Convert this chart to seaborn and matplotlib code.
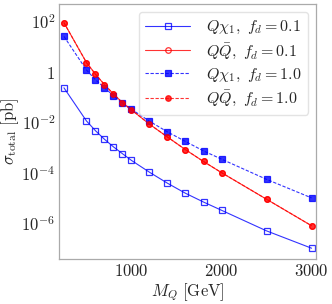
import matplotlib
matplotlib.use("Agg")
import matplotlib.pyplot as plt
import matplotlib.ticker as mticker
import pandas as pd
import seaborn as sns

# masses in GeV
mass = [250, 500, 600, 700, 800, 900, 1000, 1200, 1400, 1600, 1800, 2000, 2500, 3000]

# cross sections [pb]
qchi_fd01 = [0.24, 0.0117, 0.0048, 0.0022, 0.0011, 5.9e-4, 3.2e-4, 1.09e-4,
             4.0e-5, 1.6e-5, 7.2e-6, 3.4e-6, 5.2e-7, 1.07e-7]
qqbar_fd01 = [91, 2.4, 0.83, 0.32, 0.137, 0.062, 0.032, 0.0087,
              2.7e-3, 8.5e-4, 2.9e-4, 1.05e-4, 9.3e-6, 8.3e-7]
qchi_fd10 = [26, 1.22, 0.50, 0.24, 0.117, 0.059, 0.034, 0.0114,
             4.3e-3, 1.8e-3, 7.6e-4, 3.6e-4, 5.7e-5, 1.05e-5]
qqbar_fd10 = qqbar_fd01

sns.set_style("white")
plt.rcParams["font.family"] = ["DejaVu Serif"]
plt.rcParams["mathtext.fontset"] = "cm"

fig = plt.figure(figsize=(3.32, 3.04), dpi=100)
ax = fig.add_axes([0.179, 0.148, 0.773, 0.839])

series = [
    (qchi_fd01, r"$Q\chi_1,\ f_d=0.1$", "blue", "-", "s", "none"),
    (qqbar_fd01, r"$Q\bar{Q},\ f_d=0.1$", "red", "-", "o", "none"),
    (qchi_fd10, r"$Q\chi_1,\ f_d=1.0$", "blue", (0, (3, 1.5)), "s", "blue"),
    (qqbar_fd10, r"$Q\bar{Q},\ f_d=1.0$", "red", (0, (3, 1.5)), "o", "red"),
]
for vals, lab, col, ls, mk, mfc in series:
    d = pd.DataFrame({"M": mass, "sigma": vals})
    sns.lineplot(data=d, x="M", y="sigma", ax=ax, color=col, linestyle=ls,
                 linewidth=0.8, marker=mk, markersize=4, markerfacecolor=mfc,
                 markeredgecolor=col, markeredgewidth=0.9, label=lab, alpha=0.8)

ax.set_yscale("log")
ax.set_xlim(200, 3050)
ax.set_ylim(4e-8, 5e2)
ax.set_xticks([1000, 2000, 3000])
ax.set_xticklabels([r"$1000$", r"$2000$", r"$3000$"])
ax.set_yticks([1e2, 1, 1e-2, 1e-4, 1e-6])
ax.set_yticklabels([r"$10^{2}$", r"$1$", r"$10^{-2}$", r"$10^{-4}$", r"$10^{-6}$"])
ax.yaxis.set_minor_locator(mticker.NullLocator())
ax.tick_params(direction="in", length=2.5, width=0.6, color="#999999",
               labelsize=12, pad=3)
for s in ax.spines.values():
    s.set_color("#aaaaaa")
    s.set_linewidth(0.9)

ax.set_xlabel(r"$M_Q\ [\mathrm{GeV}]$", fontsize=12, labelpad=1)
ax.set_ylabel(r"$\sigma_{\mathrm{total}}\ [\mathrm{pb}]$", fontsize=12, labelpad=0)

leg = ax.legend(loc="upper right", fontsize=11.5, frameon=True, fancybox=True,
                handlelength=2.8, handletextpad=1.0, borderaxespad=0.5,
                labelspacing=0.3)
leg.get_frame().set_edgecolor("#dddddd")

fig.savefig("out.png", dpi=100)
